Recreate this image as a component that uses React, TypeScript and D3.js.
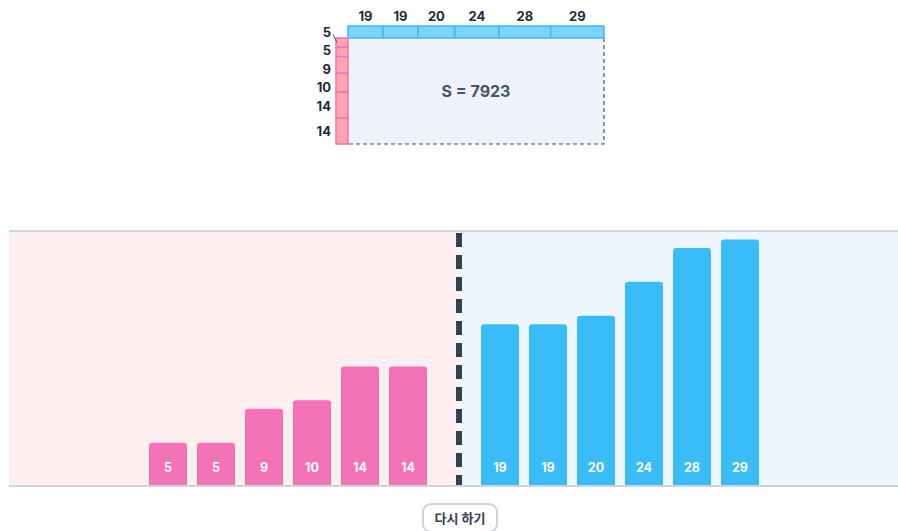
import { scaleBand, scaleLinear, cumsum, sum } from "d3";

// left group (pink) and right group (blue)
const pinkValues = [5, 5, 9, 10, 14, 14];
const blueValues = [19, 19, 20, 24, 28, 29];
const resetLabel = "다시 하기";

const width = 898;
const height = 531;
const font = "Inter, 'Noto Sans', sans-serif";

// bottom panel
const panel = { left: 9, right: 898, top: 231, bottom: 486, split: 459 };

// top rectangle
const rectBox = { left: 348, right: 604, top: 38, bottom: 144 };
const stripW = 12;

// push overlapping labels apart
const relax = (centers, gap) => {
  const pos = centers.slice();
  for (let k = 0; k < 200; k++) {
    for (let i = 0; i < pos.length - 1; i++) {
      const d = pos[i + 1] - pos[i];
      if (d < gap) {
        const m = (gap - d) / 2;
        pos[i] -= m;
        pos[i + 1] += m;
      }
    }
  }
  return pos;
};

// bar with rounded top corners only
const topRounded = (x, y, w, y0, r) =>
  `M${x},${y0}V${y + r}Q${x},${y} ${x + r},${y}H${x + w - r}Q${x + w},${y} ${x + w},${y + r}V${y0}Z`;

const App = () => {
  const pinkSum = sum(pinkValues);
  const blueSum = sum(blueValues);

  // top diagram scales
  const xTop = scaleLinear().domain([0, blueSum]).range([rectBox.left, rectBox.right]);
  const yTop = scaleLinear().domain([0, pinkSum]).range([rectBox.top, rectBox.bottom]);
  const blueEnds = Array.from(cumsum(blueValues));
  const pinkEnds = Array.from(cumsum(pinkValues));
  const blueStarts = blueEnds.map((e, i) => e - blueValues[i]);
  const pinkStarts = pinkEnds.map((e, i) => e - pinkValues[i]);
  const pinkCenters = pinkStarts.map((s, i) => yTop(s + pinkValues[i] / 2));
  const pinkLabelY = relax(pinkCenters, 18.5);

  // bottom bar scales
  const yBar = scaleLinear().domain([0, 30]).range([panel.bottom - 1, panel.top]);
  const idx = pinkValues.map((_, i) => i);
  const xPink = scaleBand()
    .domain(idx)
    .range([144, 144 + 48 * 6])
    .paddingInner(10 / 48)
    .paddingOuter(5 / 48);
  const xBlue = scaleBand()
    .domain(idx)
    .range([476, 476 + 48 * 6])
    .paddingInner(10 / 48)
    .paddingOuter(5 / 48);

  const bars = (values, x, color) =>
    values.map((v, i) => (
      <g key={color + i}>
        <path d={topRounded(x(i), yBar(v), x.bandwidth(), yBar(0), 3)} fill={color} />
        <text
          x={x(i) + x.bandwidth() / 2}
          y={468}
          dy="0.35em"
          textAnchor="middle"
          fill="#fff"
          fontSize={12.5}
          fontWeight={700}
        >
          {v}
        </text>
      </g>
    ));

  return (
    <svg
      width={width}
      height={height}
      style={{ position: "absolute", left: 0, top: 0 }}
      fontFamily={font}
    >
      {/* top area rectangle */}
      <rect
        x={rectBox.left}
        y={rectBox.top}
        width={rectBox.right - rectBox.left}
        height={rectBox.bottom - rectBox.top}
        fill="#eff2f8"
      />
      <path
        d={`M${rectBox.right},${rectBox.top}V${rectBox.bottom}H${rectBox.left}`}
        fill="none"
        stroke="#4b5563"
        strokeWidth={1.2}
        strokeDasharray="4 3"
      />
      <text
        x={(rectBox.left + rectBox.right) / 2}
        y={(rectBox.top + rectBox.bottom) / 2}
        dy="0.35em"
        textAnchor="middle"
        fill="#475569"
        fontSize={16}
        fontWeight={700}
      >
        S = {pinkSum * blueSum}
      </text>

      {/* blue strip */}
      {blueValues.map((v, i) => (
        <g key={"bs" + i}>
          <rect
            x={xTop(blueStarts[i])}
            y={rectBox.top - 12}
            width={xTop(blueEnds[i]) - xTop(blueStarts[i])}
            height={12}
            fill="#7dd3fc"
            stroke="#38bdf8"
            strokeWidth={1.5}
          />
          <text
            x={xTop(blueStarts[i] + v / 2)}
            y={16}
            dy="0.35em"
            textAnchor="middle"
            fill="#1e293b"
            fontSize={13}
            fontWeight={700}
          >
            {v}
          </text>
        </g>
      ))}

      {/* pink strip */}
      {pinkValues.map((v, i) => (
        <g key={"ps" + i}>
          <rect
            x={rectBox.left - stripW}
            y={yTop(pinkStarts[i])}
            width={stripW}
            height={yTop(pinkEnds[i]) - yTop(pinkStarts[i])}
            fill="#fda4af"
            stroke="#f472b6"
            strokeWidth={1.5}
          />
          <text
            x={331}
            y={pinkLabelY[i]}
            dy="0.35em"
            textAnchor="end"
            fill="#1e293b"
            fontSize={13}
            fontWeight={700}
          >
            {v}
          </text>
          {Math.abs(pinkLabelY[i] - pinkCenters[i]) > 6 && (
            <line
              x1={333}
              y1={pinkLabelY[i] + 2}
              x2={rectBox.left - stripW + 1}
              y2={pinkCenters[i]}
              stroke="#475569"
              strokeWidth={1}
            />
          )}
        </g>
      ))}

      {/* bottom panel */}
      <rect
        x={panel.left}
        y={panel.top}
        width={panel.split - panel.left}
        height={panel.bottom - panel.top}
        fill="#fef0f1"
      />
      <rect
        x={panel.split}
        y={panel.top}
        width={panel.right - panel.split}
        height={panel.bottom - panel.top}
        fill="#eff7fe"
      />
      {bars(pinkValues, xPink, "#f472b6")}
      {bars(blueValues, xBlue, "#38bdf8")}
      <line
        x1={panel.left}
        x2={panel.right}
        y1={panel.top}
        y2={panel.top}
        stroke="#cbd5e1"
        strokeWidth={2}
      />
      <line
        x1={panel.left}
        x2={panel.right}
        y1={panel.bottom}
        y2={panel.bottom}
        stroke="#cbd5e1"
        strokeWidth={2}
      />
      <line
        x1={panel.split}
        x2={panel.split}
        y1={panel.top + 2}
        y2={panel.bottom - 1}
        stroke="#334155"
        strokeWidth={6}
        strokeDasharray="14 8"
      />

      {/* reset button */}
      <rect
        x={423}
        y={504}
        width={74}
        height={28}
        rx={8}
        fill="#fff"
        stroke="#cbd5e1"
        strokeWidth={2}
      />
      <text
        x={460}
        y={518}
        dy="0.35em"
        textAnchor="middle"
        fill="#334155"
        fontSize={13}
        fontWeight={600}
        fontFamily="'Noto Sans CJK KR', sans-serif"
      >
        {resetLabel}
      </text>
    </svg>
  );
};

export default App;
